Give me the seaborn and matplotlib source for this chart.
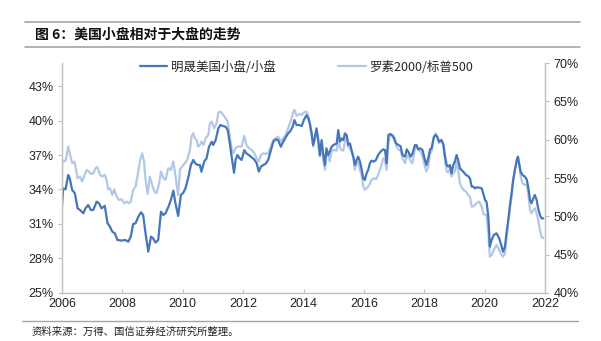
import numpy as np
import pandas as pd
import matplotlib
matplotlib.use("Agg")
import matplotlib.pyplot as plt
import seaborn as sns

# ---- data ----
dark_years = [2006.00, 2006.04, 2006.12, 2006.21, 2006.26, 2006.34, 2006.43, 2006.52, 2006.60, 2006.71,
              2006.78, 2006.87, 2006.96, 2007.04, 2007.15, 2007.23, 2007.31, 2007.42, 2007.51, 2007.59,
              2007.67, 2007.75, 2007.84, 2007.98, 2008.09, 2008.20, 2008.28, 2008.36, 2008.44, 2008.53,
              2008.62, 2008.69, 2008.77, 2008.86, 2008.95, 2009.02, 2009.10, 2009.19, 2009.28, 2009.36,
              2009.43, 2009.52, 2009.61, 2009.69, 2009.76, 2009.85, 2009.94, 2010.02, 2010.09, 2010.18,
              2010.27, 2010.35, 2010.40, 2010.49, 2010.57, 2010.62, 2010.71, 2010.79, 2010.87, 2010.96,
              2011.01, 2011.09, 2011.18, 2011.25, 2011.34, 2011.42, 2011.49, 2011.56, 2011.62, 2011.70,
              2011.75, 2011.81, 2011.89, 2011.95, 2012.04, 2012.11, 2012.19, 2012.28, 2012.37, 2012.45,
              2012.52, 2012.59, 2012.67, 2012.74, 2012.83, 2012.92, 2013.00, 2013.08, 2013.16, 2013.25,
              2013.33, 2013.41, 2013.49,
              2013.55, 2013.64, 2013.70, 2013.77, 2013.86, 2013.94, 2014.01, 2014.10, 2014.16, 2014.21,
              2014.27, 2014.32, 2014.38, 2014.43, 2014.49, 2014.54, 2014.60, 2014.65, 2014.71, 2014.76,
              2014.82, 2014.87, 2014.93, 2014.99, 2015.10, 2015.15, 2015.21, 2015.26, 2015.32, 2015.37,
              2015.43, 2015.48, 2015.54, 2015.59, 2015.65, 2015.70, 2015.76, 2015.81, 2015.87, 2015.92,
              2015.98, 2016.03, 2016.09, 2016.14, 2016.20, 2016.25, 2016.33, 2016.40, 2016.47, 2016.55,
              2016.64, 2016.70, 2016.75, 2016.81, 2016.88, 2016.97, 2017.06, 2017.14, 2017.21, 2017.28,
              2017.36, 2017.42, 2017.47, 2017.55, 2017.61, 2017.69, 2017.74, 2017.80, 2017.88, 2017.94,
              2018.02, 2018.07, 2018.13, 2018.19, 2018.24, 2018.32, 2018.38, 2018.43, 2018.49, 2018.57,
              2018.63, 2018.68, 2018.74, 2018.79, 2018.85, 2018.90, 2018.96, 2019.01, 2019.07, 2019.12,
              2019.18, 2019.23, 2019.29, 2019.38, 2019.45, 2019.51, 2019.57, 2019.62, 2019.68, 2019.73,
              2019.82, 2019.90, 2019.95, 2020.01, 2020.06, 2020.12, 2020.17, 2020.23, 2020.30, 2020.39,
              2020.48, 2020.56, 2020.61, 2020.67, 2020.72, 2020.78, 2020.83, 2020.89, 2020.94, 2021.00,
              2021.06, 2021.10, 2021.14, 2021.19, 2021.25, 2021.33, 2021.39, 2021.44, 2021.50, 2021.55,
              2021.61, 2021.66, 2021.72, 2021.77, 2021.83, 2021.88, 2021.94]
msci_small = [32.36, 34.10, 34.01, 35.26, 34.97, 33.96, 33.67, 32.36, 32.22, 31.93,
              32.36, 32.65, 32.22, 32.22, 32.94, 32.80, 32.36, 32.57, 31.06, 30.77,
              30.33, 30.19, 29.61, 29.55, 29.61, 29.46, 29.90, 31.00, 31.06, 31.64,
              32.01, 31.78, 30.19, 28.59, 29.90, 29.75, 29.38, 29.61, 32.07, 31.78,
              31.93, 32.45, 33.09, 33.90, 32.80, 31.70, 33.52, 33.72, 34.10, 34.97,
              36.13, 36.57, 36.33, 36.13, 36.13, 35.55, 36.42, 36.71, 37.72, 38.16,
              37.87, 38.30, 39.32, 39.61, 39.52, 39.46, 39.17, 38.01, 36.86, 35.46,
              36.57, 37.00, 36.71, 36.57, 37.43, 37.14, 37.00, 36.80, 36.62, 36.28,
              35.55, 35.99, 36.13, 36.22, 36.57, 37.43, 38.16, 38.36, 38.30, 37.72,
              38.16, 38.54, 38.88,
              39.03, 39.46, 40.04, 39.61, 39.61, 39.52, 40.04, 40.48, 40.19, 39.75,
              38.88, 37.87, 38.59, 39.32, 38.30, 37.00, 38.30, 37.14, 36.13, 37.58,
              37.00, 37.29, 37.72, 37.87, 38.01, 39.17, 38.16, 38.45, 38.30, 38.88,
              38.74, 37.87, 38.01, 37.43, 36.86, 36.13, 36.57, 36.86, 36.42, 35.84,
              34.97, 34.83, 35.41, 35.70, 36.28, 36.51, 36.42, 36.57, 37.00, 37.29,
              37.49, 37.43, 36.28, 38.74, 38.83, 38.59, 38.01, 37.87, 37.78, 37.00,
              36.86, 37.49, 37.29, 36.86, 37.14, 37.87, 37.87, 37.49, 37.58, 37.43,
              36.57, 36.13, 36.71, 37.49, 37.58, 38.59, 38.74, 38.59, 38.16, 38.30,
              37.96, 37.00, 36.13, 35.99, 36.13, 35.41, 36.13, 36.42, 37.00, 36.57,
              35.84, 35.70, 35.55, 35.26, 35.17, 34.97, 34.25, 34.25, 34.10, 34.19,
              34.16, 34.10, 33.67, 33.09, 32.94, 31.64, 29.03, 29.61, 30.04, 30.19,
              29.75, 29.03, 28.59, 29.03, 30.19, 31.35, 32.51, 33.67, 34.83, 35.70,
              36.57, 36.86, 36.28, 35.55, 35.26, 35.12, 34.88, 34.25, 33.09, 32.80,
              33.23, 33.52, 33.09, 32.36, 31.78, 31.49, 31.49]

light_years = [2006.00, 2006.01, 2006.08, 2006.13, 2006.21, 2006.26, 2006.34, 2006.41, 2006.45, 2006.52,
               2006.60, 2006.67, 2006.74, 2006.82, 2006.89, 2006.96, 2007.04, 2007.11, 2007.18, 2007.26,
               2007.34, 2007.42, 2007.48, 2007.53, 2007.59, 2007.67, 2007.73, 2007.81, 2007.89, 2007.98,
               2008.06, 2008.14, 2008.22, 2008.28, 2008.36, 2008.44, 2008.51, 2008.58, 2008.66, 2008.72,
               2008.77, 2008.84, 2008.91, 2008.99, 2009.06, 2009.13, 2009.21, 2009.28, 2009.36, 2009.43,
               2009.52, 2009.61, 2009.69, 2009.74, 2009.80, 2009.85, 2009.91, 2009.98, 2010.07, 2010.16,
               2010.24, 2010.29, 2010.35, 2010.40, 2010.46, 2010.51, 2010.57, 2010.62, 2010.69, 2010.76,
               2010.85, 2010.90, 2010.96, 2011.04, 2011.12, 2011.18, 2011.25, 2011.34, 2011.42, 2011.49,
               2011.56, 2011.62, 2011.67, 2011.75, 2011.82, 2011.89, 2011.95, 2012.04, 2012.11, 2012.19,
               2012.28, 2012.37, 2012.45, 2012.52, 2012.59, 2012.67, 2012.74, 2012.83, 2012.92, 2013.00,
               2013.08, 2013.16, 2013.25, 2013.33, 2013.41, 2013.49,
               2013.55, 2013.61, 2013.66, 2013.70, 2013.77, 2013.86, 2013.94, 2014.01, 2014.08, 2014.12,
               2014.19, 2014.25, 2014.32, 2014.38, 2014.43, 2014.49, 2014.54, 2014.60, 2014.65, 2014.71,
               2014.76, 2014.82, 2014.87, 2014.93, 2014.99, 2015.10, 2015.15, 2015.21, 2015.26, 2015.32,
               2015.37, 2015.43, 2015.48, 2015.54, 2015.59, 2015.65, 2015.70, 2015.76, 2015.81, 2015.87,
               2015.92, 2015.98, 2016.03, 2016.09, 2016.18, 2016.25, 2016.33, 2016.40, 2016.47, 2016.55,
               2016.64, 2016.70, 2016.75, 2016.81, 2016.86, 2016.95, 2017.03, 2017.08, 2017.14, 2017.21,
               2017.28, 2017.36, 2017.42, 2017.47, 2017.55, 2017.61, 2017.69, 2017.74, 2017.80, 2017.88,
               2017.94, 2018.02, 2018.07, 2018.13, 2018.19, 2018.24, 2018.32, 2018.38, 2018.43, 2018.49,
               2018.57, 2018.63, 2018.68, 2018.74, 2018.79, 2018.85, 2018.90, 2018.96, 2019.01, 2019.07,
               2019.12, 2019.18, 2019.23, 2019.29, 2019.38, 2019.45, 2019.51, 2019.57, 2019.62, 2019.68,
               2019.73, 2019.82, 2019.90, 2019.95, 2020.01, 2020.06, 2020.12, 2020.17, 2020.23, 2020.30,
               2020.39, 2020.48, 2020.56, 2020.61, 2020.67, 2020.72, 2020.78, 2020.83, 2020.89, 2020.94,
               2021.00, 2021.06, 2021.10, 2021.14, 2021.19, 2021.25, 2021.33, 2021.39, 2021.44, 2021.50,
               2021.55, 2021.61, 2021.66, 2021.72, 2021.77, 2021.83, 2021.88, 2021.94]
russell_sp = [54.32, 57.36, 57.15, 57.36, 59.10, 58.23, 56.93, 57.15, 56.49, 54.97,
              55.19, 54.53, 55.27, 56.06, 55.84, 55.54, 55.63, 56.28, 56.41, 55.41,
              55.19, 55.41, 54.75, 53.53, 53.66, 52.79, 53.53, 52.58, 52.14, 52.23,
              51.71, 51.92, 51.71, 51.92, 53.45, 53.88, 55.41, 57.15, 58.23, 57.15,
              54.75, 52.92, 55.19, 54.10, 53.23, 53.01, 54.10, 55.84, 54.97, 54.75,
              56.28, 56.06, 57.15, 55.84, 54.10, 52.79, 56.14, 56.49, 56.93, 57.45,
              58.67, 60.41, 60.84, 60.19, 59.97, 59.10, 59.32, 59.76, 59.32, 60.19,
              60.63, 62.15, 62.37, 61.50, 62.15, 63.54, 63.67, 63.24, 62.80, 62.37,
              60.41, 58.89, 58.23, 58.89, 59.10, 59.10, 59.10, 60.50, 59.32, 58.89,
              58.67, 58.23, 57.58, 57.15, 58.02, 58.23, 58.15, 58.23, 59.10, 59.97,
              60.19, 60.41, 59.76, 60.19, 60.63, 61.50,
              62.15, 62.80, 63.67, 63.89, 63.11, 63.37, 63.24, 63.54, 63.67, 63.54,
              62.59, 60.84, 59.10, 60.19, 61.28, 59.54, 57.80, 58.89, 57.36, 56.06,
              58.23, 58.02, 57.15, 58.45, 58.67, 58.58, 60.41, 58.89, 58.67, 58.58,
              59.76, 60.41, 59.10, 58.89, 58.45, 57.58, 56.06, 57.15, 56.93, 56.06,
              55.40, 53.88, 53.45, 53.66, 54.10, 54.75, 54.97, 54.84, 55.40, 56.28,
              57.58, 57.36, 56.06, 59.32, 60.63, 60.63, 60.19, 59.10, 58.67, 58.67,
              57.58, 56.93, 57.80, 58.02, 57.15, 56.93, 58.89, 59.10, 58.67, 58.45,
              57.80, 56.49, 55.84, 56.49, 58.23, 58.45, 60.41, 60.84, 60.19, 59.54,
              59.97, 59.10, 57.36, 55.84, 55.71, 56.28, 55.19, 55.62, 55.84, 57.15,
              56.06, 54.32, 53.88, 53.45, 53.23, 52.79, 52.58, 51.27, 51.27, 51.49,
              51.71, 51.92, 51.27, 50.40, 50.18, 50.18, 47.79, 44.74, 44.96, 45.61,
              46.27, 45.61, 44.96, 44.74, 45.18, 46.92, 49.09, 50.84, 52.58, 54.32,
              56.06, 57.15, 57.58, 56.71, 55.19, 54.32, 54.10, 54.10, 53.01, 50.84,
              50.40, 50.84, 51.05, 50.40, 49.53, 48.22, 47.35, 47.14]

series_names = ["明晟美国小盘/小盘", "罗素2000/标普500"]
left_ticks = [25, 28, 31, 34, 37, 40, 43]
right_ticks = [40, 45, 50, 55, 60, 65, 70]
x_ticks = [2006, 2008, 2010, 2012, 2014, 2016, 2018, 2020, 2022]
title = "图 6：美国小盘相对于大盘的走势"
source = "资料来源：万得、国信证券经济研究所整理。"

# ---- style ----
sns.set_theme(style="white")
plt.rcParams['font.family'] = ['Liberation Sans', 'Noto Sans CJK SC', 'DejaVu Sans']
cjk = ['Noto Sans CJK SC', 'DejaVu Sans']

dark_c = "#4676b9"
light_c = "#b3c8e6"
spine_c = "#bfbfbf"

fig = plt.figure(figsize=(6.01, 3.41), dpi=100)
ax = fig.add_axes([0.103, 0.141, 0.804, 0.674])
ax2 = ax.twinx()

df_d = pd.DataFrame({"year": dark_years, "v": msci_small})
df_l = pd.DataFrame({"year": light_years, "v": russell_sp})
sns.lineplot(data=df_d, x="year", y="v", ax=ax, color=dark_c, lw=1.6, label=series_names[0], legend=False)
sns.lineplot(data=df_l, x="year", y="v", ax=ax2, color=light_c, lw=1.6, label=series_names[1], legend=False)
ax.set_zorder(ax2.get_zorder() + 1)
ax.patch.set_visible(False)

ax.set_xlim(2006, 2022)
ax.set_ylim(25, 45)
ax2.set_ylim(40, 70)
ax.set_xticks(x_ticks)
ax.set_xticklabels([str(t) for t in x_ticks], fontsize=9, color="#222222")
ax.set_yticks(left_ticks)
ax.set_yticklabels([f"{t}%" for t in left_ticks], fontsize=9, color="#222222")
ax2.set_yticks(right_ticks)
ax2.set_yticklabels([f"{t}%" for t in right_ticks], fontsize=9, color="#222222")
ax.set_xlabel("")
ax.set_ylabel("")
ax2.set_ylabel("")

for a in (ax, ax2):
    for s in ("top",):
        a.spines[s].set_visible(False)
    for s in ("left", "right", "bottom"):
        a.spines[s].set_color(spine_c)
        a.spines[s].set_linewidth(1.0)
ax.spines["right"].set_visible(False)
ax2.spines["left"].set_visible(False)
ax2.spines["bottom"].set_visible(False)
ax.tick_params(axis="y", which="both", left=True, length=3, width=0.8, color=spine_c, pad=3)
ax.tick_params(axis="x", which="both", bottom=True, direction="in", length=3, width=0.8, color=spine_c, pad=4)
ax2.tick_params(axis="y", which="both", right=True, length=3, width=0.8, color=spine_c, pad=3)
ax.grid(False)
ax2.grid(False)

# legend
h1, l1 = ax.get_legend_handles_labels()
h2, l2 = ax2.get_legend_handles_labels()
fig.legend(h1 + h2, l1 + l2, loc="center", bbox_to_anchor=(0.51, 0.803), ncol=2, frameon=False,
           prop={"family": cjk, "size": 9}, handlelength=2.2, handletextpad=0.3, columnspacing=5.0)

# title and rules
fig.add_artist(plt.Line2D([0.042, 0.965], [1 - 22 / 341, 1 - 22 / 341], color="#a6a6a6", lw=1.2, transform=fig.transFigure))
fig.add_artist(plt.Line2D([0.042, 0.965], [1 - 47 / 341, 1 - 47 / 341], color="#a6a6a6", lw=1.2, transform=fig.transFigure))
fig.text(0.058, 1 - 34.5 / 341, title, fontsize=10, fontweight="bold", family=cjk, va="center", ha="left", color="#111111")
fig.add_artist(plt.Line2D([0.037, 0.962], [1 - 321 / 341, 1 - 321 / 341], color="#a6a6a6", lw=1.0, transform=fig.transFigure))
fig.text(0.052, 1 - 332 / 341, source, fontsize=7.5, family=cjk, va="center", ha="left", color="#222222")

fig.savefig("out.png", dpi=100)
